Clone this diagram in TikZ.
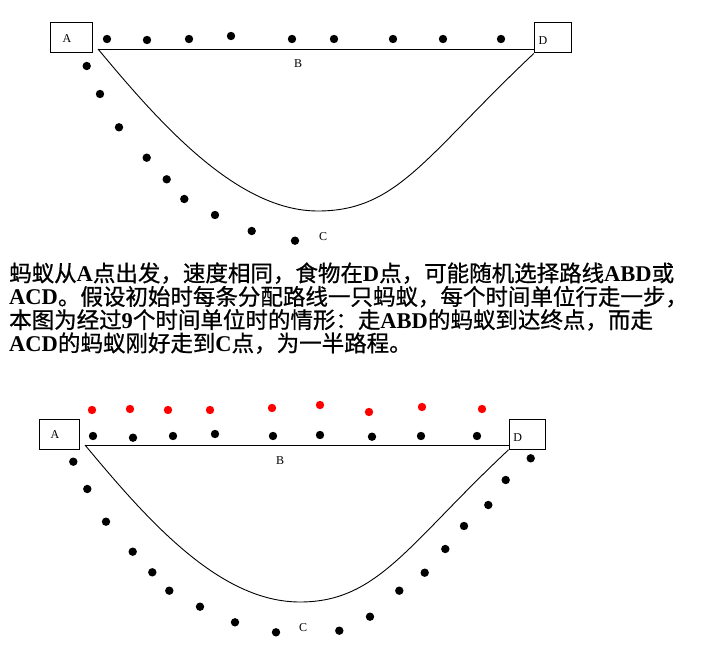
\documentclass[tikz,border=0pt]{standalone}
\usepackage{fontspec}
\setmainfont{Liberation Serif}
\newfontfamily\cjk{Noto Sans CJK SC}[FakeBold=0.8]
\newcommand{\lat}[1]{{\rmfamily\bfseries #1}}
\usetikzlibrary{positioning}

\tikzset{
  box/.style={draw, line width=1pt, minimum height=30pt, inner sep=0pt},
  lbl/.style={font=\fontsize{12}{13}\selectfont, inner sep=0pt},
  path/.style={line width=0.9pt},
  txt/.style={anchor=base west, inner sep=0pt, font=\cjk\fontsize{22.5}{23.3}\selectfont},
}

\begin{document}
\begin{tikzpicture}[x=1pt, y=-1pt]
    \useasboundingbox (0,0) rectangle (702,655);

    % Top picture: boxes and labels
    \node[box, minimum width=42pt] (A1) at (71.7,37.5) {};
    \node[box, minimum width=37.4pt] (D1) at (553,38) {};
    \node[lbl] (a1) at (67,39) {A};
    \node[lbl] (d1) at (543,41) {D};
    \node[lbl] (b1) at (298,64) {B};
    \node[lbl] (c1) at (323,237) {C};

    % Top picture: paths ABD and ACD
    \coordinate (s1) at (98,49);
    \draw[path] (s1) -- (s1 -| D1.west);
    \draw[path] (s1) .. controls (162,126) and (238,211) .. (318,211)
                     .. controls (398,211) and (426,155) .. (D1.south west);

    % Ants on ABD
    \foreach \x/\y in {107/39, 147/40, 189/39, 231/36, 292/39, 334/39, 393/39, 443/39, 501/39} {
        \fill[black] (\x,\y) circle (4.2pt);
    }
    % Ants on ACD
    \foreach \x/\y in {86.7/66, 100/94, 119/127.3, 146.7/157.7, 166.7/179.3, 184.3/199, 215/215, 251.7/231, 295/240.7} {
        \fill[black] (\x,\y) circle (4.2pt);
    }

    % Text
    \node[txt] (l1) at (9,281.5) {蚂蚁从\lat{A}点出发，速度相同，食物在\lat{D}点，可能随机选择路线\lat{ABD}或};
    \node[txt] (l2) at (9,305) {\lat{ACD}。假设初始时每条分配路线一只蚂蚁，每个时间单位行走一步，};
    \node[txt] (l3) at (9,328.2) {本图为经过\lat{9}个时间单位时的情形：走\lat{ABD}的蚂蚁到达终点，而走};
    \node[txt] (l4) at (9,351.5) {\lat{ACD}的蚂蚁刚好走到\lat{C}点，为一半路程。};

    % Bottom picture: boxes and labels
    \node[box, minimum width=40.3pt] (A2) at (59.2,434) {};
    \node[box, minimum width=36.7pt] (D2) at (527.4,434.3) {};
    \node[lbl] (a2) at (55,435) {A};
    \node[lbl] (d2) at (517.7,437.7) {D};
    \node[lbl] (b2) at (280,461) {B};
    \node[lbl] (c2) at (303,628) {C};

    % Bottom picture: paths ABD and ACD
    \coordinate (s2) at (85,445);
    \draw[path] (s2) -- (s2 -| D2.west);
    \draw[path] (s2) .. controls (149,522) and (220,602) .. (300,602)
                     .. controls (378,602) and (408,544) .. (D2.south west);

    % Ants returning on ABD (red) and going out on ABD
    \foreach \x/\y in {92/410, 130/409, 168/410, 210/410, 272/408, 320/405, 369/412, 422/407, 482/409} {
        \fill[red] (\x,\y) circle (4.2pt);
    }
    \foreach \x/\y in {93/436, 133/437.7, 173/436, 215/434, 273/436, 320/435, 372/436.7, 421/436, 477/436} {
        \fill[black] (\x,\y) circle (4.2pt);
    }
    % Ants on ACD, both halves
    \foreach \x/\y in {73.3/461.7, 87.3/489, 106/521.7, 132.7/551.7, 152.3/572.3, 169.3/590.7, 200/606.7, 235/622.3, 276/632.3,
                       339.3/630.7, 370/616.7, 399.3/590.7, 424.7/572.7, 445.3/549, 464/526, 488.3/505, 505.7/480, 530.7/458.3} {
        \fill[black] (\x,\y) circle (4.2pt);
    }
\end{tikzpicture}
\end{document}
